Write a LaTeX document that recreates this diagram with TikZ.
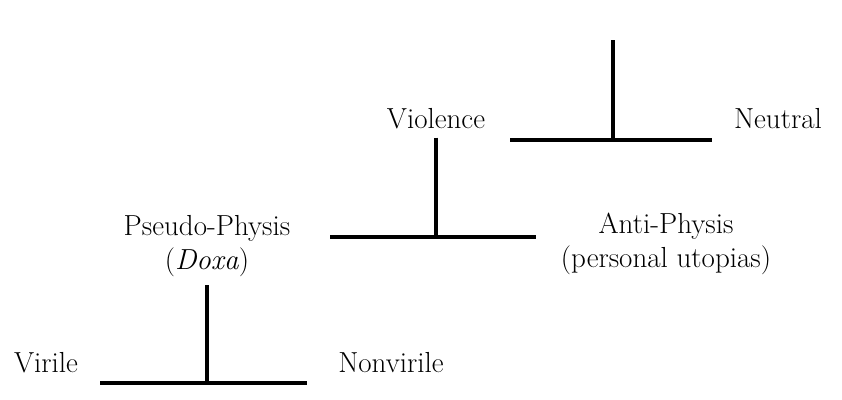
\documentclass[tikz,border=0pt]{standalone}
\usepackage{fontspec}
\usepackage{tikz}
\tikzset
{
    term/.style = {anchor=base, align=center, inner sep=3pt, font=\fontsize{29}{34}\selectfont},
    bar/.style  = {line width=3.2pt},
    stem/.style = {line width=3.2pt, shorten <=6pt},
}

\begin{document}
\begin{tikzpicture}[x=1pt, y=-1pt]
	\useasboundingbox (0,0) rectangle (842,399);
	\coordinate (top) at (613,40);
	\coordinate (bar1l) at (510,140);
	\coordinate (bar1r) at (712,140);
	\coordinate (bar2l) at (330,237);
	\coordinate (bar2r) at (536,237);
	\coordinate (bar3l) at (100,383);
	\coordinate (bar3r) at (307,383);

	\node (violence) [term] at (436,128) {Violence};
	\node (neutral) [term] at (778,128) {Neutral};
	\node (pseudo) [term] at (207,269) {Pseudo-Physis\\(\textit{Doxa})};
	\node (anti) [term] at (666,267) {Anti-Physis\\(personal utopias)};
	\node (virile) [term] at (46,372) {Virile};
	\node (nonvirile) [term] at (391,372) {Nonvirile};

	\draw [bar] (bar1l) -- (bar1r);
	\draw [bar] (bar2l) -- (bar2r);
	\draw [bar] (bar3l) -- (bar3r);
	\draw [bar] (top) -- (top |- bar1l);
	\draw [stem] (violence.south) -- (violence.south |- bar2l);
	\draw [stem] (pseudo.south) -- (pseudo.south |- bar3l);
\end{tikzpicture}
\end{document}
